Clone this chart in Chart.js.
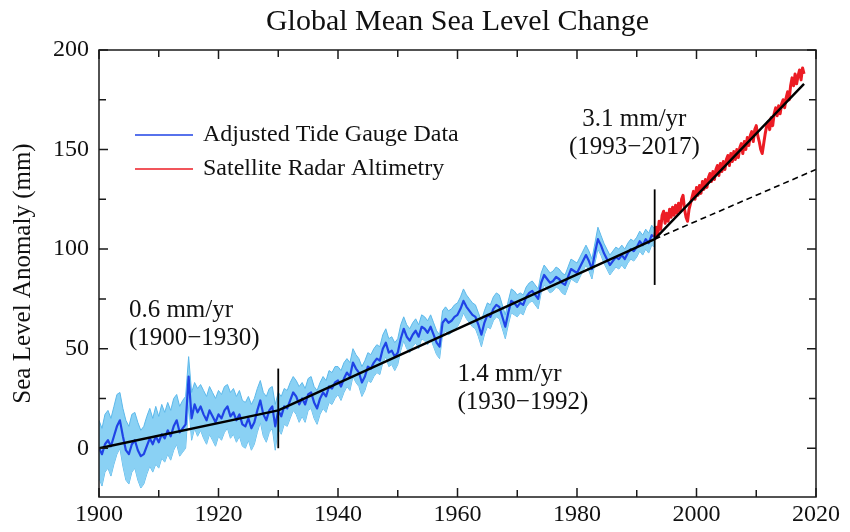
<!DOCTYPE html>
<html>
<head>
<meta charset="utf-8">
<title>Global Mean Sea Level Change</title>
<script src="https://cdn.jsdelivr.net/npm/chart.js@4.4.1/dist/chart.umd.min.js"></script>
<style>
  html, body { margin: 0; padding: 0; background: #fff; }
  #wrap { width: 850px; height: 532px; }
</style>
</head>
<body>
<div id="wrap"><canvas id="chart" width="850" height="532"></canvas></div>
<script>
// tide gauge record, half-year steps from 1900.0 to 1993.0 (mm)
const tideStart = 1900
const tideStep = 0.5
const tideMean = [
  0, -3, 2, 4, 1, 6, 11, 14, 6, -1,
  -3, 2, 4, -1, -4, -3, 1, 5, 2, 6,
  3, 7, 5, 9, 6, 11, 14, 8, 10, 12,
  36, 15, 22, 18, 21, 17, 14, 19, 16, 13,
  17, 15, 19, 21, 16, 18, 14, 17, 12, 11,
  15, 10, 13, 19, 24, 17, 14, 19, 21, 11,
  19, 16, 21, 20, 24, 28, 26, 22, 25, 22,
  27, 28, 23, 20, 25, 28, 26, 31, 30, 33,
  34, 31, 35, 38, 36, 43, 40, 38, 33, 36,
  41, 40, 43, 45, 44, 50, 53, 48, 49, 46,
  48, 55, 60, 56, 54, 57, 59, 56, 61, 60,
  58, 61, 57, 53, 51, 63, 65, 63, 64, 66,
  67, 70, 74, 71, 69, 67, 66, 62, 57, 63,
  67, 66, 70, 72, 71, 66, 61, 68, 74, 73,
  71, 73, 72, 76, 78, 79, 77, 75, 83, 87,
  85, 83, 84, 86, 85, 83, 82, 86, 90, 89,
  88, 91, 94, 97, 94, 90, 98, 105, 102, 98,
  95, 92, 94, 96, 95, 97, 95, 98, 100, 99,
  101, 104, 102, 105, 103, 107, 106
]
const tideUpper = [
  14, 10, 17, 19, 15, 21, 27, 28, 20, 14,
  11, 17, 18, 13, 9, 11, 16, 20, 15, 21,
  16, 22, 18, 23, 19, 25, 27, 21, 24, 26,
  46, 28, 33, 30, 32, 29, 26, 31, 28, 25,
  29, 27, 31, 32, 28, 30, 26, 29, 24, 23,
  26, 22, 25, 30, 34, 28, 26, 30, 31, 22,
  28, 26, 30, 29, 33, 36, 34, 31, 33, 30,
  35, 36, 31, 29, 33, 36, 34, 39, 38, 41,
  41, 39, 43, 45, 43, 50, 47, 45, 41, 44,
  48, 47, 50, 52, 51, 57, 60, 55, 56, 53,
  55, 62, 66, 62, 60, 63, 65, 62, 67, 66,
  64, 67, 63, 59, 57, 69, 71, 69, 70, 72,
  73, 76, 80, 77, 75, 73, 72, 68, 64, 69,
  73, 72, 76, 78, 77, 72, 67, 74, 80, 79,
  77, 78, 77, 81, 83, 84, 82, 80, 88, 92,
  90, 88, 89, 91, 90, 88, 87, 91, 95, 94,
  93, 96, 99, 102, 99, 95, 103, 111, 107, 103,
  100, 97, 99, 101, 100, 102, 100, 103, 105, 104,
  106, 109, 107, 110, 108, 112, 110
]
const tideLower = [
  -15, -19, -12, -10, -14, -8, -3, 0, -9, -16,
  -18, -12, -10, -16, -20, -18, -13, -9, -12, -8,
  -10, -5, -7, -3, -6, -1, 2, -4, -2, 0,
  22, 4, 10, 6, 9, 5, 2, 7, 4, 1,
  6, 4, 8, 10, 5, 7, 3, 6, 1, 0,
  4, -1, 2, 8, 13, 6, 3, 8, 10, -1,
  10, 7, 12, 11, 15, 19, 17, 13, 16, 13,
  19, 20, 15, 12, 17, 20, 18, 23, 22, 25,
  27, 24, 28, 31, 29, 36, 33, 31, 26, 29,
  34, 33, 36, 38, 37, 43, 46, 41, 42, 39,
  42, 49, 54, 50, 48, 51, 53, 50, 55, 54,
  52, 55, 51, 47, 45, 57, 59, 57, 58, 60,
  61, 64, 68, 65, 63, 61, 60, 56, 51, 57,
  61, 60, 64, 66, 65, 60, 55, 62, 68, 67,
  66, 68, 67, 71, 73, 74, 72, 70, 78, 82,
  80, 78, 79, 81, 80, 78, 77, 81, 85, 84,
  83, 86, 89, 92, 89, 85, 93, 100, 97, 93,
  90, 87, 89, 91, 90, 92, 90, 93, 95, 94,
  96, 99, 97, 100, 98, 102, 101
]

// satellite altimetry, quarter-year steps from 1993.0 to 2018.0 (mm)
const satStart = 1993
const satStep = 0.25
const satValues = [
  106, 111, 107, 114, 110, 117, 119, 113, 118, 114,
  120, 116, 121, 117, 122, 118, 123, 119, 125, 127,
  120, 116, 114, 120, 123, 126, 129, 125, 131, 127,
  132, 128, 134, 130, 135, 131, 136, 138, 134, 139,
  135, 140, 142, 137, 143, 139, 144, 140, 145, 147,
  142, 148, 144, 149, 145, 150, 146, 151, 153, 148,
  154, 150, 156, 152, 157, 159, 154, 160, 162, 157,
  154, 150, 148, 153, 158, 162, 164, 160, 166, 162,
  168, 171, 167, 172, 168, 173, 175, 171, 176, 179,
  175, 182, 186, 182, 188, 183, 187, 190, 185, 191,
  188
]

// piecewise trend fits and the extrapolated 1930-1992 rate
const trendYears = [1900, 1930, 1993, 2018]
const trendValues = [0, 19, 105, 183]
const extrapYears = [1993, 2020]
const extrapValues = [105, 140]
// period break markers: [year, bottom, top]
const breakMarks = [[1930, 0, 40], [1993, 82, 130]]

// axis ticks (every tick gets a mark, labelled ones get text)
const xTickValues = [1900, 1910, 1920, 1930, 1940, 1950, 1960, 1970, 1980, 1990, 2000, 2010, 2020]
const xTickLabels = ['1900', '', '1920', '', '1940', '', '1960', '', '1980', '', '2000', '', '2020']
const yTickValues = [0, 25, 50, 75, 100, 125, 150, 175, 200]
const yTickLabels = ['0', '', '50', '', '100', '', '150', '', '200']
const xRange = [1900, 2020]
const yRange = [-24.5, 200]

const annotations = [
  { lines: ['0.6 mm/yr', '(1900\u22121930)'], x: 1905, y: 69, align: 'left' },
  { lines: ['1.4 mm/yr', '(1930\u22121992)'], x: 1960, y: 37, align: 'left' },
  { lines: ['3.1 mm/yr', '(1993\u22122017)'], x: 1989.6, y: 165, align: 'center' }
]

const serif = "'Liberation Serif', 'Times New Roman', Times, serif"
Chart.defaults.font.family = serif
Chart.defaults.color = '#111'

const series = (start, step, values) => values.map((v, i) => ({ x: start + i * step, y: v }))
const pairs = (xs, ys) => xs.map((v, i) => ({ x: v, y: ys[i] }))

const BLUE = '#1f43e6'
const BAND = '#8ad1f4'
const BAND_EDGE = '#5cb8ea'
const RED = '#ec1c24'

const datasets = [
  {
    label: 'band lower', data: series(tideStart, tideStep, tideLower),
    borderColor: BAND_EDGE, borderWidth: 1, fill: false, order: 6
  },
  {
    label: 'band upper', data: series(tideStart, tideStep, tideUpper),
    borderColor: BAND_EDGE, borderWidth: 1, backgroundColor: BAND, fill: '-1', order: 5
  },
  {
    label: 'Adjusted Tide Gauge Data', data: series(tideStart, tideStep, tideMean),
    borderColor: BLUE, borderWidth: 2.2, order: 4, legend: true
  },
  {
    label: 'Satellite Radar Altimetry', data: series(satStart, satStep, satValues),
    borderColor: RED, borderWidth: 3, order: 3, legend: true
  },
  {
    label: 'trend', data: pairs(trendYears, trendValues),
    borderColor: '#000', borderWidth: 2.4, order: 1
  },
  {
    label: 'extrapolation', data: pairs(extrapYears, extrapValues),
    borderColor: '#000', borderWidth: 1.6, borderDash: [6, 4], order: 2
  },
  ...breakMarks.map(([yr, lo, hi]) => ({
    label: 'break ' + yr, data: [{ x: yr, y: lo }, { x: yr, y: hi }],
    borderColor: '#000', borderWidth: 1.8, order: 0
  }))
]

const framePlugin = {
  id: 'frame',
  afterDatasetsDraw(chart) {
    const { ctx, chartArea: a, scales: { x, y } } = chart
    ctx.save()
    ctx.strokeStyle = '#1a1a1a'
    ctx.lineWidth = 1.5
    ctx.strokeRect(a.left, a.top, a.right - a.left, a.bottom - a.top)
    ctx.beginPath()
    x.ticks.forEach((t, i) => {
      const px = x.getPixelForValue(t.value)
      const len = xTickLabels[i] ? 9 : 7
      ctx.moveTo(px, a.bottom); ctx.lineTo(px, a.bottom - len)
      ctx.moveTo(px, a.top); ctx.lineTo(px, a.top + len)
    })
    y.ticks.forEach((t, i) => {
      const py = y.getPixelForValue(t.value)
      const len = yTickLabels[i] ? 9 : 7
      ctx.moveTo(a.left, py); ctx.lineTo(a.left + len, py)
      ctx.moveTo(a.right, py); ctx.lineTo(a.right - len, py)
    })
    ctx.stroke()
    ctx.restore()
  },
  afterDraw(chart) {
    const { ctx, chartArea: a, scales: { x, y } } = chart
    ctx.save()
    ctx.fillStyle = '#111'
    ctx.textBaseline = 'middle'

    // title, centred over the plot frame
    ctx.font = `30px ${serif}`
    ctx.textAlign = 'center'
    ctx.fillText('Global Mean Sea Level Change', (a.left + a.right) / 2, 22)

    // legend
    ctx.font = `24px ${serif}`
    ctx.textAlign = 'left'
    chart.data.datasets.filter(d => d.legend).forEach((d, i) => {
      const ly = 135 + i * 34
      ctx.strokeStyle = d.borderColor
      ctx.lineWidth = 1.6
      ctx.beginPath()
      ctx.moveTo(135, ly); ctx.lineTo(193, ly)
      ctx.stroke()
      ctx.fillText(d.label, 203, ly)
    })

    // rate annotations
    ctx.font = `25px ${serif}`
    annotations.forEach(n => {
      ctx.textAlign = n.align
      const px = x.getPixelForValue(n.x)
      const py = y.getPixelForValue(n.y)
      n.lines.forEach((s, i) => ctx.fillText(s, px, py + i * 28))
    })
    ctx.restore()
  }
}

new Chart(document.getElementById('chart'), {
  type: 'line',
  data: { datasets },
  options: {
    responsive: false,
    animation: false,
    devicePixelRatio: 1,
    layout: { padding: { top: 50, right: 34, left: 0, bottom: 0 } },
    elements: {
      point: { radius: 0, hoverRadius: 0 },
      line: { tension: 0, borderCapStyle: 'butt', borderJoinStyle: 'round' }
    },
    plugins: {
      legend: { display: false },
      title: { display: false },
      tooltip: { enabled: false }
    },
    scales: {
      x: {
        type: 'linear',
        min: xRange[0],
        max: xRange[1],
        grid: { display: false, drawTicks: false },
        border: { display: false },
        afterBuildTicks: s => { s.ticks = xTickValues.map(v => ({ value: v })) },
        ticks: {
          autoSkip: false,
          maxRotation: 0,
          padding: 3,
          font: { size: 24 },
          color: '#111',
          callback: (v, i) => xTickLabels[i]
        },
        afterFit: s => { s.height = 35 }
      },
      y: {
        type: 'linear',
        min: yRange[0],
        max: yRange[1],
        grid: { display: false, drawTicks: false },
        border: { display: false },
        afterBuildTicks: s => { s.ticks = yTickValues.map(v => ({ value: v })) },
        ticks: {
          autoSkip: false,
          padding: 10,
          font: { size: 24 },
          color: '#111',
          callback: (v, i) => yTickLabels[i]
        },
        title: {
          display: true,
          text: 'Sea Level Anomaly (mm)',
          font: { size: 25 },
          color: '#111',
          padding: { top: 8, bottom: 0 }
        },
        afterFit: s => { s.width = 99 }
      }
    }
  },
  plugins: [framePlugin]
})
</script>
</body>
</html>
